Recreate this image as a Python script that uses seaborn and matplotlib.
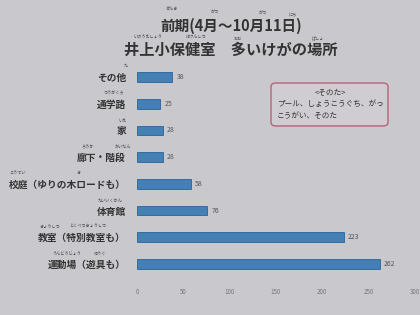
import matplotlib
matplotlib.use("Agg")
import matplotlib.pyplot as plt
import seaborn as sns
import pandas as pd
from matplotlib.patches import FancyBboxPatch

sns.set_theme(style="white")
plt.rcParams['font.family'] = ['Noto Sans CJK JP', 'DejaVu Sans']

categories = ["その他", "通学路", "家", "廊下・階段", "校庭（ゆりの木ロードも）",
              "体育館", "教室（特別教室も）", "運動場（遊具も）"]
values = [38, 25, 28, 28, 58, 76, 223, 262]
xticks = [0, 50, 100, 150, 200, 250, 300]

df = pd.DataFrame({"place": categories, "count": values})

BG = "#c9c8cc"
W, H = 420, 315
fig = plt.figure(figsize=(4.2, 3.15), dpi=100, facecolor=BG)
ax = fig.add_axes([137 / W, 1 - 280 / H, 278 / W, 219 / H])
ax.set_facecolor(BG)

sns.barplot(data=df, x="count", y="place", orient="h", ax=ax,
            color="#3381c6", width=0.36, edgecolor="#2a639c", linewidth=0.6)
ax.set_xlim(0, 300)
ax.set_ylim(7.6, -0.6)
ax.set_xticks(xticks)
ax.set_xticklabels([str(t) for t in xticks], fontsize=4.5, color="#777777")
ax.tick_params(axis="x", length=0, pad=6)
ax.tick_params(axis="y", length=0, pad=8)
for lab in ax.get_yticklabels():
    lab.set_fontsize(7)
    lab.set_fontweight("bold")
    lab.set_color("#333333")
ax.set_xlabel("")
ax.set_ylabel("")
for s in ax.spines.values():
    s.set_visible(False)
ax.bar_label(ax.containers[0], padding=3, fontsize=5, color="#555555")

def px(x, y):
    return x / W, 1 - y / H

# title
fig.text(*px(231, 26), "前期(4月～10月11日)", ha="center", va="center",
         fontsize=10.5, fontweight="bold", color="#333333")
fig.text(*px(231, 50), "井上小保健室　多いけがの場所", ha="center", va="center",
         fontsize=11, fontweight="bold", color="#333333")

# furigana
ruby = [
    (172, 9, "ぜんき"), (215, 12, "がつ"), (263, 13, "がつ"), (293, 14, "にち"),
    (148, 37.5, "いのうえしょう"), (196, 37.5, "ほけんしつ"), (238, 38.5, "おお"), (318, 38.5, "ばしょ"),
    (126, 66, "た"), (114, 93, "つうがくろ"), (123, 121, "いえ"),
    (88, 147, "ろうか"), (123, 147, "かいだん"),
    (18, 173, "こうてい"), (78, 173, "き"),
    (110, 202, "たいいくかん"),
    (50, 227, "きょうしつ"), (88, 227, "とくべつきょうしつ"),
    (67, 254, "うんどうじょう"), (100, 254, "ゆうぐ"),
]
for x, y, t in ruby:
    fig.text(*px(x, y), t, ha="center", va="center", fontsize=3, color="#444444")

# note box
x0, y0, x1, y1 = 271, 83, 388, 126
box = FancyBboxPatch(px(x0, y1), (x1 - x0) / W, (y1 - y0) / H,
                     boxstyle="round,pad=0,rounding_size=0.012",
                     transform=fig.transFigure, facecolor="#cfcdd1",
                     edgecolor="#b86474", linewidth=1.0)
fig.add_artist(box)
fig.text(*px(330, 93), "<そのた>", ha="center", va="center", fontsize=5.5, color="#333333")
fig.text(*px(277, 104), "プール、しょうこうぐち、がっ", ha="left", va="center",
         fontsize=5.5, color="#333333")
fig.text(*px(277, 116), "こうがい、そのた", ha="left", va="center",
         fontsize=5.5, color="#333333")

fig.savefig("out.png", dpi=100, facecolor=BG)
